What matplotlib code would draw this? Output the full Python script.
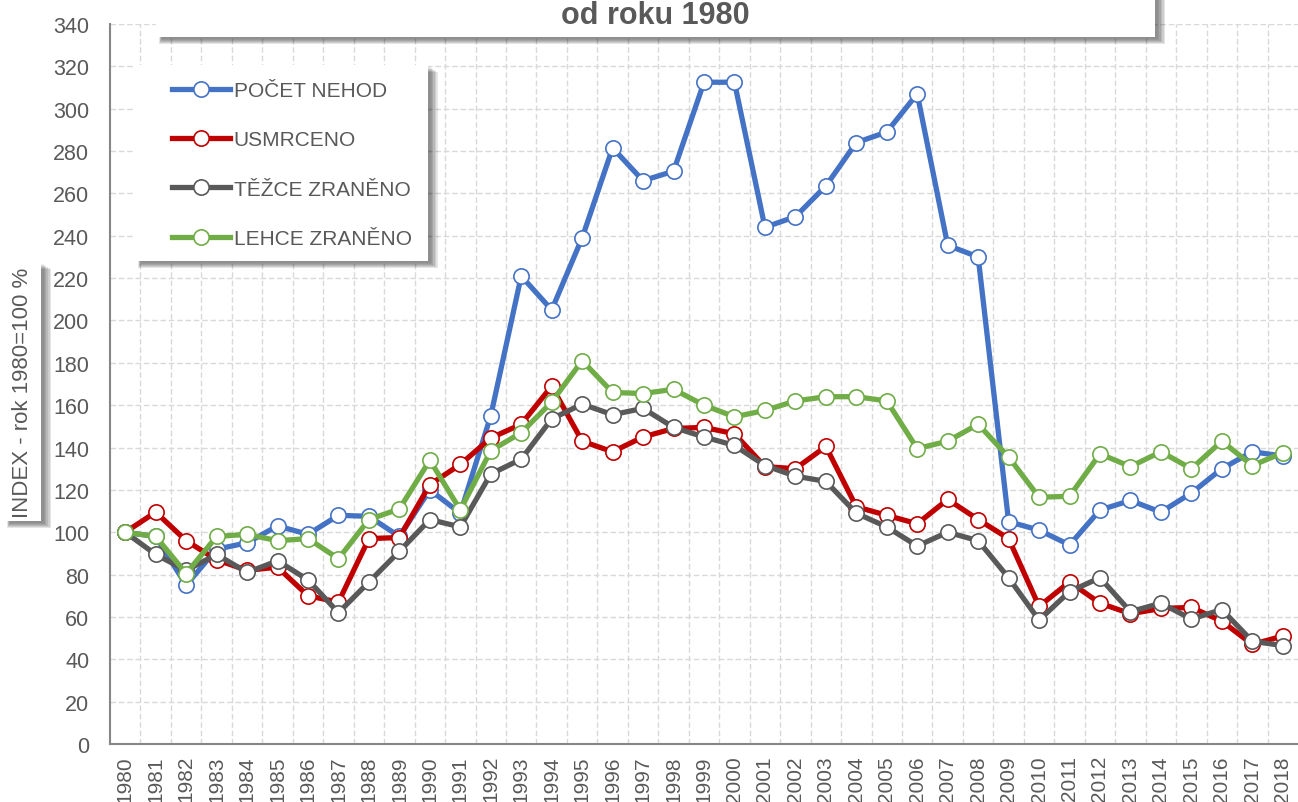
import numpy as np
import matplotlib.pyplot as plt
from matplotlib.patches import Rectangle

plt.rcParams['font.family'] = ['Liberation Sans', 'DejaVu Sans']

years = list(range(1980, 2019))

pocet_nehod = [100, 98, 75, 92, 95, 103, 99, 108, 107.5, 98, 120, 109,
               155, 221, 205, 239, 281.5, 266, 270.5, 312.5, 312.5, 244,
               249, 263.5, 284, 289, 307, 235.5, 230, 105, 101, 94, 110.5,
               115, 109.5, 118.5, 130, 138, 136]
usmrceno = [100, 109.5, 96, 87, 82, 83.5, 70, 67, 97, 97.5, 122.5, 132,
            144.5, 151, 169, 143, 138, 145, 149, 149.5, 146.5, 131, 130,
            140.5, 112, 108, 104, 115.5, 106, 97, 65, 76.5, 66.5, 61.5,
            64, 64.5, 58, 47, 51]
tezce = [100, 89.5, 82, 89.5, 81, 86.5, 77.5, 62, 76.5, 91, 106, 102.5,
         127.5, 134.5, 153.5, 160.5, 155.5, 158.5, 149.5, 145, 141, 131.5,
         126.5, 124, 109, 102.5, 93.5, 100, 96, 78.5, 58.5, 72, 78.5, 62.5,
         66.5, 59, 63.5, 48.5, 46.5]
lehce = [100, 98, 80.5, 98, 99, 96, 97, 87.5, 106, 111, 134, 110.5,
         138.5, 147, 161.5, 181, 166, 165.5, 167.5, 160, 154.5, 157.5,
         162, 164, 164, 162, 139.5, 143, 151, 135.5, 116.5, 117, 137, 131,
         138, 130, 143, 131.5, 137.5]

series_names = ['POČET NEHOD', 'USMRCENO', 'TĚŽCE ZRANĚNO', 'LEHCE ZRANĚNO']
series_data = [pocet_nehod, usmrceno, tezce, lehce]
series_colors = ['#4472C4', '#C00000', '#595959', '#70AD47']

W, H = 1298, 803
fig = plt.figure(figsize=(W / 100, H / 100), dpi=100)
ax = fig.add_axes([110 / W, 1 - 745 / H, (W - 110) / W, (745 - 25) / H])

x = np.arange(len(years))
for name, vals, col in zip(series_names, series_data, series_colors):
    ax.plot(x, vals, color=col, lw=3.8, marker='o', markersize=11,
            markerfacecolor='white', markeredgecolor=col,
            markeredgewidth=1.2, label=name, solid_joinstyle='round')

ax.set_xlim(-0.5, len(years) - 0.5)
ax.set_ylim(0, 340)
ax.set_yticks(np.arange(0, 341, 20))
ax.set_xticks(x)
ax.set_xticklabels([str(y) for y in years], rotation=90, fontsize=15,
                   color='#595959')
ax.tick_params(axis='y', labelsize=15.5, labelcolor='#595959', length=0, pad=15)
ax.tick_params(axis='x', length=0, pad=8)

# gridlines: horizontal at ticks, vertical between categories
for yv in np.arange(20, 341, 20):
    ax.axhline(yv, color='#d9d9d9', lw=1, ls=(0, (4, 2)), zorder=0)
for xv in np.arange(0.5, len(years) - 0.5, 1):
    ax.axvline(xv, color='#d9d9d9', lw=1, ls=(0, (4, 2)), zorder=0)

for s in ['top', 'right']:
    ax.spines[s].set_visible(False)
for s in ['left', 'bottom']:
    ax.spines[s].set_color('#868686')
    ax.spines[s].set_linewidth(1.5)


# soft shadowed white boxes (pixel coords, origin top-left)
def shadow_box(x0, y0, x1, y1, z=5):
    for i, a in enumerate([0.10, 0.10, 0.10, 0.10, 0.08, 0.06]):
        d = 7 - i
        fig.patches.append(Rectangle(((x0 + 3 + i * 0.5) / W, 1 - (y1 + d) / H),
                                     (x1 - x0 + d - i) / W, (y1 - y0) / H,
                                     transform=fig.transFigure,
                                     facecolor='black', edgecolor='none',
                                     alpha=a, zorder=z))
    fig.patches.append(Rectangle((x0 / W, 1 - y1 / H), (x1 - x0) / W,
                                 (y1 - y0) / H, transform=fig.transFigure,
                                 facecolor='white', edgecolor='none',
                                 zorder=z + 0.5))


# title box (mostly cut off at top)
shadow_box(156, -60, 1155, 38, z=5)
fig.text(655 / W, 1 - 16 / H, 'od roku 1980', ha='center', va='center',
         fontsize=22, fontweight='bold', color='#595959', zorder=7)

# y label box
shadow_box(4, 263, 41, 522, z=5)
fig.text(23 / W, 1 - 393 / H, 'INDEX - rok 1980=100 %', rotation=90,
         ha='center', va='center', fontsize=16, color='#595959', zorder=7)

# legend box
shadow_box(135, 66, 428, 262, z=5)
leg = ax.legend(loc='upper left', bbox_to_anchor=(166 / W, 1 - 76 / H),
                bbox_transform=fig.transFigure, frameon=False, fontsize=15,
                handlelength=2.75, handletextpad=0.2, labelspacing=1.45,
                borderaxespad=0, borderpad=0.3, labelcolor='#595959')
leg.set_zorder(8)
leg.remove()
fig.add_artist(leg)

fig.savefig('out.png', dpi=100)
